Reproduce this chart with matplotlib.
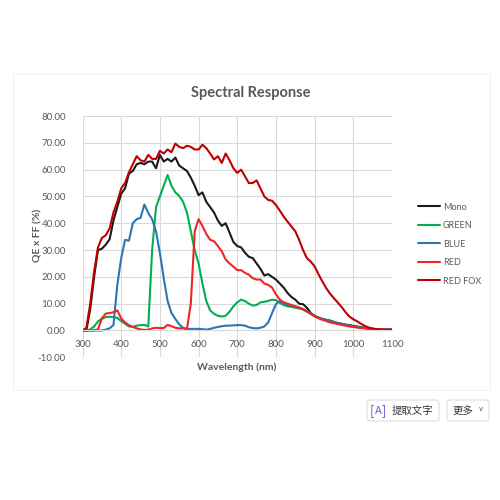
import numpy as np
import matplotlib.pyplot as plt
from matplotlib.patches import FancyBboxPatch, Rectangle

plt.rcParams['font.family'] = ['Lato', 'DejaVu Sans']

# wavelength grid (nm), 10 nm steps 300..1100
wavelength = list(range(300, 1101, 10))

mono = [0, 0, 8, 20, 30, 30.5, 32, 34, 41, 46,
        51, 53, 58.5, 59.5, 62, 62.5, 62, 63, 63, 60.5,
        65.5, 63, 64, 63, 64.5, 61.5, 60.5, 59.5, 57, 54,
        50.5, 51.5, 48, 46, 44, 41, 39, 40, 36.5, 33,
        31.5, 31, 29, 27.5, 27, 25, 23, 20.5, 21, 20,
        19, 17.5, 16, 14, 12.5, 11.5, 10, 9.8, 8.5, 6.5,
        5.5, 4.8, 4.3, 4, 3.7, 3.2, 2.8, 2.5, 2.2, 2,
        1.7, 1.5, 1.2, 1, 0.8, 0.6, 0.5, 0.4, 0.3, 0.3, 0.3]

green = [0, 0, 0.4, 1.5, 3.4, 4.3, 5, 5.1, 5, 4.7,
         3.5, 2.5, 1.5, 1.4, 1.8, 2, 2.1, 1.5, 30, 46,
         50, 54, 58, 54, 51.5, 50.2, 48, 44, 37, 30,
         25, 17.5, 11, 7.5, 6.2, 5.5, 5.2, 5.5, 7, 9,
         10.5, 11.5, 11, 10, 9.3, 9.5, 10.5, 10.7, 11, 11.5,
         11.3, 10.3, 9.5, 9, 8.8, 8.5, 8.2, 7.8, 7, 6.2,
         5.3, 4.8, 4.3, 3.9, 3.5, 3.1, 2.7, 2.4, 2.1, 1.8,
         1.5, 1.3, 1.1, 0.9, 0.7, 0.6, 0.5, 0.4, 0.3, 0.3, 0.3]

blue = [0, 0, 0, 0, 0, 0, 0.3, 0.8, 2, 17,
        27, 33.8, 33.5, 40, 41.5, 42, 47, 43.8, 41.5, 37,
        29, 19.5, 11, 6.5, 4.3, 2.3, 1, 0.6, 0.6, 0.6,
        0.6, 0.5, 0.3, 0.6, 1, 1.3, 1.6, 1.8, 1.8, 1.9,
        2, 2, 1.8, 1.2, 0.9, 0.8, 1, 1.5, 3, 6.5,
        9.8, 11, 10, 9.5, 9.2, 9, 8.5, 8, 7.2, 6.2,
        5.3, 4.8, 4.3, 3.9, 3.5, 3.1, 2.7, 2.4, 2.1, 1.8,
        1.5, 1.3, 1.1, 0.9, 0.7, 0.6, 0.5, 0.4, 0.3, 0.3, 0.3]

red = [0, 0, 0, 0, 0.5, 4.5, 6.3, 6.5, 6.8, 7.5,
       4.5, 3, 2, 1.3, 0.8, 0.4, 0.2, 0.3, 0.8, 1,
       0.9, 0.9, 2.1, 1.6, 1, 0.8, 0.8, 0.6, 10, 37,
       41.5, 39, 36, 33.8, 33.3, 31.5, 29.5, 26.5, 25, 23.8,
       22.5, 22.5, 21.5, 20.8, 19.5, 19, 19, 17.5, 17, 16,
       13.5, 11.5, 10.5, 10, 9.5, 9, 8.5, 8, 7.2, 6.3,
       5.3, 4.6, 4, 3.5, 3, 2.7, 2.4, 2.1, 1.8, 1.5,
       1.3, 1.1, 0.9, 0.8, 0.6, 0.5, 0.4, 0.4, 0.3, 0.3, 0.3]

red_fox = [0, 1, 10, 22, 31, 34.5, 35.5, 38, 44, 48,
           53, 55, 59, 62, 65, 63.5, 63, 65.5, 64, 64,
           67, 66, 67.5, 66.5, 69.7, 68.5, 68, 68.9, 68.5, 67.5,
           67.5, 69.3, 68, 66, 63.8, 65, 62.5, 66, 63.5, 60.5,
           58.8, 60, 57.5, 55, 55, 56, 53, 50, 48.7, 48.4,
           46.8, 44.7, 42.5, 40.6, 38.8, 37, 33.8, 30, 27, 25.7,
           23.9, 21, 18.3, 15.8, 13.7, 12, 10.4, 8.7, 6.8, 5.2,
           4.2, 3.4, 2.5, 1.7, 1.1, 0.7, 0.5, 0.4, 0.3, 0.3, 0.3]

series = [('Mono', mono, '#1a1a1a'),
          ('GREEN', green, '#00b050'),
          ('BLUE', blue, '#2e75b6'),
          ('RED', red, '#f02424'),
          ('RED FOX', red_fox, '#c00000')]

TXT = '#595959'

fig = plt.figure(figsize=(5, 5), dpi=100)
fig.patch.set_facecolor('white')

# faint chart frame
fig.patches.append(Rectangle((13/500, 1-390/500), 477/500, 316/500,
                             transform=fig.transFigure, fill=False,
                             ec='#f0f0f0', lw=0.8))

ax = fig.add_axes([0.165, 0.2854, 0.619, 0.4826])
for name, vals, col in series:
    ax.plot(wavelength, vals, color=col, lw=1.5, label=name,
            solid_joinstyle='round', solid_capstyle='round')

ax.set_xlim(300, 1100)
ax.set_ylim(-10, 80)
ax.set_xticks(np.arange(300, 1101, 100))
ax.set_yticks(np.arange(-10, 81, 10))
ax.set_yticklabels(['%.2f' % v for v in np.arange(-10, 81, 10)])
ax.grid(True, color='#d9d9d9', lw=0.8)
ax.set_axisbelow(True)
for s in ['top', 'right', 'left']:
    ax.spines[s].set_visible(False)
ax.spines['bottom'].set_position(('data', 0))
ax.spines['bottom'].set_color('#d9d9d9')
ax.spines['bottom'].set_linewidth(0.8)
ax.tick_params(axis='both', length=0, labelsize=7, labelcolor=TXT)
ax.tick_params(axis='y', pad=12)
ax.tick_params(axis='x', pad=7)

fig.text(251/500, 1-93/500, 'Spectral Response', ha='center', va='center',
         fontsize=10.5, fontweight='bold', color=TXT)
fig.text(237/500, 1-367/500, 'Wavelength (nm)', ha='center', va='center',
         fontsize=7.5, fontweight='bold', color=TXT)
fig.text(37.5/500, 1-235/500, 'QE x FF (%)', ha='center', va='center',
         rotation=90, fontsize=7.5, fontweight='bold', color=TXT)

leg = fig.legend(loc='upper left', bbox_to_anchor=(414/500, 1-199/500),
                 frameon=False, fontsize=6.5, handlelength=2.5,
                 handletextpad=0.3, labelspacing=1.05, borderaxespad=0)
for t in leg.get_texts():
    t.set_color(TXT)

# screenshot buttons below the chart
cjk = ['Noto Sans CJK SC', 'DejaVu Sans']
for x0, w in [(367, 72), (447, 42)]:
    fig.patches.append(FancyBboxPatch((x0/500, 1-421/500), w/500, 21/500,
                                      boxstyle='round,pad=0,rounding_size=0.006',
                                      transform=fig.transFigure, fc='white',
                                      ec='#dddddd', lw=0.8))
fig.text(378/500, 1-411/500, 'A', ha='center', va='center', fontsize=8,
         color='#7b4ddb', family=cjk)
fig.text(372/500, 1-411/500, '[', ha='center', va='center', fontsize=9,
         color='#7b4ddb', family=cjk)
fig.text(384/500, 1-411/500, ']', ha='center', va='center', fontsize=9,
         color='#7b4ddb', family=cjk)
fig.text(412/500, 1-411/500, '提取文字', ha='center', va='center', fontsize=7.5,
         color='#333333', family=cjk)
fig.text(463/500, 1-411/500, '更多', ha='center', va='center', fontsize=7.5,
         color='#333333', family=cjk)
fig.text(481/500, 1-409/500, 'v', ha='center', va='center', fontsize=5,
         color='#555555', family=['DejaVu Sans'])

fig.savefig('out.png', dpi=100)
